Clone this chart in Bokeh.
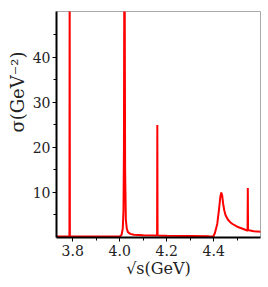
from bokeh.plotting import figure
from bokeh.models import FixedTicker, Range1d, CustomJSTickFormatter, Title
from bokeh.embed import file_html
from bokeh.resources import INLINE

# sqrt(s) in GeV and sigma in GeV^-2
sqrt_s = [3.730, 3.786, 3.787, 3.788, 3.900, 4.000, 4.008, 4.013, 4.016, 4.018,
          4.0195, 4.021, 4.023, 4.026, 4.030, 4.035, 4.045, 4.060, 4.100, 4.159,
          4.160, 4.161, 4.200, 4.300, 4.380, 4.398, 4.405, 4.415, 4.422, 4.428,
          4.432, 4.436, 4.440, 4.445, 4.450, 4.460, 4.470, 4.480, 4.500, 4.520,
          4.540, 4.544, 4.545, 4.546, 4.550, 4.570, 4.600]
sigma = [0.2, 0.2, 60.0, 0.2, 0.2, 0.2, 0.6, 2.0, 6.0, 20.0,
         60.0, 60.0, 15.0, 4.0, 2.0, 1.2, 0.8, 0.6, 0.5, 0.45,
         25.0, 0.45, 0.4, 0.35, 0.25, 0.2, 1.0, 3.0, 6.0, 9.0,
         10.0, 9.3, 7.5, 6.0, 5.0, 4.0, 3.4, 3.0, 2.4, 2.0,
         1.6, 1.5, 11.0, 1.7, 1.6, 1.4, 1.3]

x_ticks = [3.8, 4.0, 4.2, 4.4]
x_minor = [3.7, 3.9, 4.1, 4.3, 4.5]
y_ticks = [10, 20, 30, 40]
y_minor = [5, 15, 25, 35, 45]

x_label = "√s(GeV)"
y_label = "σ(GeV⁻²)"

p = figure(frame_width=204, frame_height=226, output_backend="svg", toolbar_location=None,
           x_range=Range1d(3.731, 4.599), y_range=Range1d(0, 50.2),
           min_border_left=56, min_border_right=4, min_border_top=11, min_border_bottom=10)

p.line(sqrt_s, sigma, line_color="#ff0000", line_width=2)

p.grid.visible = False
p.outline_line_color = "#aaaaaa"
p.outline_line_width = 1

p.xaxis.ticker = FixedTicker(ticks=x_ticks, minor_ticks=x_minor)
p.yaxis.ticker = FixedTicker(ticks=y_ticks, minor_ticks=y_minor)
p.xaxis.formatter = CustomJSTickFormatter(code="return tick.toFixed(1);")

for ax in (p.xaxis[0], p.yaxis[0]):
    ax.axis_line_color = "black"
    ax.axis_line_width = 2
    ax.major_tick_line_color = "black"
    ax.minor_tick_line_color = "black"
    ax.major_tick_in = 0
    ax.major_tick_out = 4
    ax.minor_tick_in = 0
    ax.minor_tick_out = 3
    ax.major_label_text_font = "DejaVu Serif"
    ax.major_label_text_font_size = "14px"
    ax.major_label_text_color = "#222222"
    ax.axis_label_text_font = "DejaVu Serif"
    ax.axis_label_text_font_size = "16px"
    ax.axis_label_text_font_style = "normal"
    ax.axis_label_text_color = "#222222"

p.xaxis.axis_label = x_label
p.xaxis.axis_label_standoff = 0
p.xaxis.major_label_standoff = 3
p.yaxis.major_label_standoff = 2

p.add_layout(Title(text=y_label, align="right", offset=40, standoff=4,
                   text_font="DejaVu Serif", text_font_size="18px",
                   text_font_style="normal", text_color="#222222"), "left")

open("out.html", "w").write(file_html(p, INLINE))
